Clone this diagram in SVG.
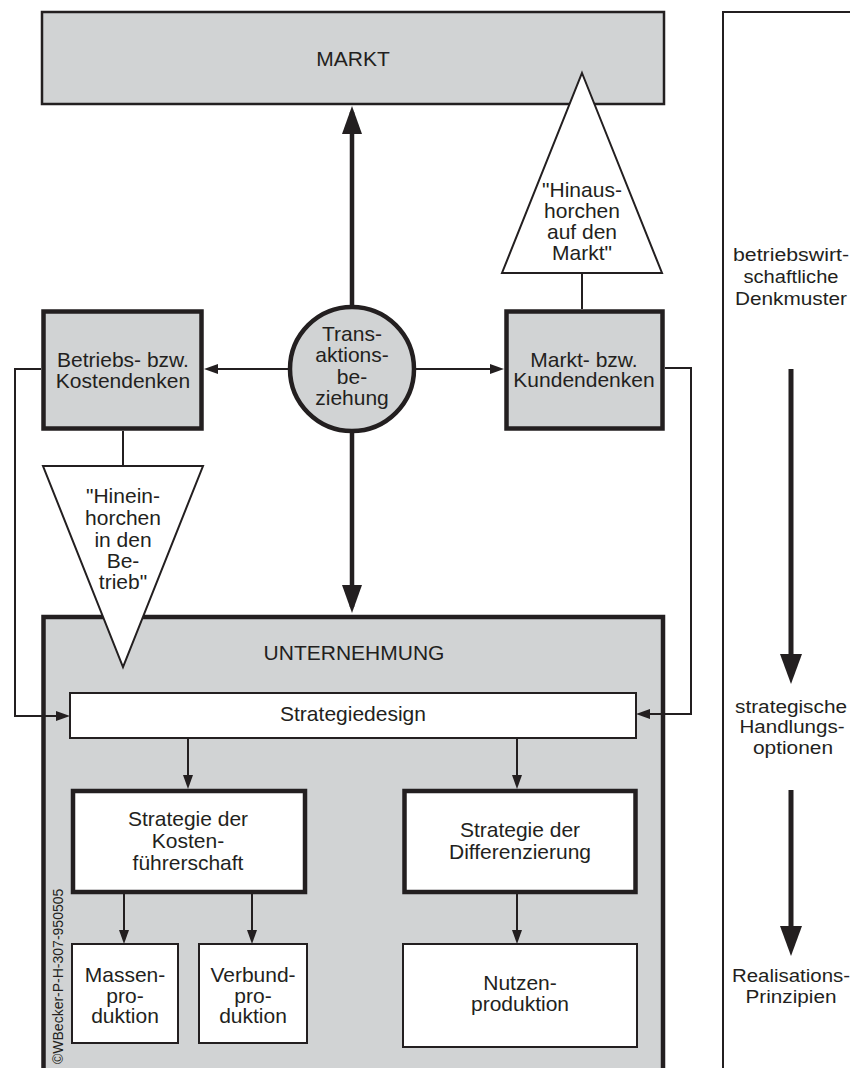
<svg xmlns="http://www.w3.org/2000/svg" width="850" height="1068" viewBox="0 0 850 1068">
  <style>
    .t { font-family: "Liberation Sans", Arial, sans-serif; font-size: 21px; fill: #231f20; text-anchor: middle; }
    .side { font-family: "Liberation Sans", Arial, sans-serif; font-size: 17.5px; fill: #231f20; text-anchor: middle; }
    .copy { font-family: "Liberation Sans", Arial, sans-serif; font-size: 14px; fill: #231f20; }
    .gray { fill: #d1d3d4; stroke: #231f20; }
    .white { fill: #ffffff; stroke: #231f20; }
    .thin { stroke-width: 2; }
    .mid { stroke-width: 2.5; }
    .bold { stroke-width: 4.5; }
    .link { fill: none; stroke: #231f20; stroke-width: 2; }
    .heavy { fill: none; stroke: #231f20; stroke-width: 4.5; }
    .flow { fill: none; stroke: #231f20; stroke-width: 5; }
  </style>
  <defs>
    <marker id="arrowThin" viewBox="0 0 14 10" refX="11" refY="5" markerWidth="14" markerHeight="10" markerUnits="userSpaceOnUse" orient="auto">
      <path d="M0,0 L14,5 L0,10 Z" fill="#231f20"/>
    </marker>
    <marker id="arrowThick" viewBox="0 0 28 20" refX="22" refY="10" markerWidth="28" markerHeight="20" markerUnits="userSpaceOnUse" orient="auto">
      <path d="M0,0 L28,10 L0,20 Z" fill="#231f20"/>
    </marker>
    <marker id="arrowFlow" viewBox="0 0 30 22" refX="22" refY="11" markerWidth="30" markerHeight="22" markerUnits="userSpaceOnUse" orient="auto">
      <path d="M0,0 L30,11 L0,22 Z" fill="#231f20"/>
    </marker>
  </defs>

  <!-- market -->
  <g id="markt">
    <rect class="gray mid" x="42" y="12" width="622" height="92"/>
    <text class="t" x="353" y="66">MARKT</text>
  </g>

  <!-- listening outwards to the market -->
  <g id="hinaushorchen">
    <polygon class="white thin" points="582,73 662,273 502,273"/>
    <text class="t" x="582" y="197">"Hinaus-</text>
    <text class="t" x="582" y="218">horchen</text>
    <text class="t" x="582" y="239">auf den</text>
    <text class="t" x="582" y="260">Markt"</text>
  </g>

  <!-- company -->
  <g id="unternehmung">
    <rect class="gray bold" x="43.5" y="617" width="619.5" height="470"/>
    <text class="t" x="354" y="660">UNTERNEHMUNG</text>
    <text class="copy" transform="translate(63,1064) rotate(-90)">©WBecker-P-H-307-950505</text>
  </g>

  <!-- listening inwards to the company -->
  <g id="hineinhorchen">
    <polygon class="white thin" points="43,466 203,466 123,667"/>
    <text class="t" x="123" y="503">"Hinein-</text>
    <text class="t" x="123" y="525">horchen</text>
    <text class="t" x="123" y="547">in den</text>
    <text class="t" x="123" y="568">Be-</text>
    <text class="t" x="123" y="589">trieb"</text>
  </g>

  <g id="betriebsdenken">
    <rect class="gray bold" x="43.5" y="311.5" width="158" height="117"/>
    <text class="t" x="123" y="367">Betriebs- bzw.</text>
    <text class="t" x="123" y="388">Kostendenken</text>
  </g>

  <g id="marktdenken">
    <rect class="gray bold" x="506.5" y="311.5" width="156" height="117"/>
    <text class="t" x="584" y="367">Markt- bzw.</text>
    <text class="t" x="584" y="387">Kundendenken</text>
  </g>

  <g id="transaktion">
    <circle class="gray bold" cx="352" cy="369" r="62"/>
    <text class="t" x="352" y="341">Trans-</text>
    <text class="t" x="352" y="362">aktions-</text>
    <text class="t" x="352" y="384">be-</text>
    <text class="t" x="352" y="405">ziehung</text>
  </g>

  <g id="strategiedesign">
    <rect class="white thin" x="70" y="693" width="566" height="45"/>
    <text class="t" x="353" y="721">Strategiedesign</text>
  </g>

  <g id="kostenfuehrerschaft">
    <rect class="white bold" x="73" y="791" width="232" height="101"/>
    <text class="t" x="188" y="826">Strategie der</text>
    <text class="t" x="188" y="848">Kosten-</text>
    <text class="t" x="188" y="870">führerschaft</text>
  </g>

  <g id="differenzierung">
    <rect class="white bold" x="404.5" y="791" width="231" height="101"/>
    <text class="t" x="520" y="837">Strategie der</text>
    <text class="t" x="520" y="859">Differenzierung</text>
  </g>

  <g id="massenproduktion">
    <rect class="white thin" x="72" y="944" width="106" height="99"/>
    <text class="t" x="125" y="982">Massen-</text>
    <text class="t" x="125" y="1003">pro-</text>
    <text class="t" x="125" y="1023">duktion</text>
  </g>

  <g id="verbundproduktion">
    <rect class="white thin" x="199" y="944" width="108" height="99"/>
    <text class="t" x="253" y="982">Verbund-</text>
    <text class="t" x="253" y="1003">pro-</text>
    <text class="t" x="253" y="1023">duktion</text>
  </g>

  <g id="nutzenproduktion">
    <rect class="white thin" x="403" y="944" width="234" height="103"/>
    <text class="t" x="520" y="990">Nutzen-</text>
    <text class="t" x="520" y="1011">produktion</text>
  </g>

  <!-- side column: levels of thinking -->
  <g id="ebenen">
    <path class="link" d="M723,1068 V12 H850"/>
    <text class="side" x="791" y="261" textLength="116" lengthAdjust="spacingAndGlyphs">betriebswirt-</text>
    <text class="side" x="791" y="283" textLength="95" lengthAdjust="spacingAndGlyphs">schaftliche</text>
    <text class="side" x="791" y="305" textLength="112" lengthAdjust="spacingAndGlyphs">Denkmuster</text>
    <text class="side" x="791" y="713" textLength="112" lengthAdjust="spacingAndGlyphs">strategische</text>
    <text class="side" x="792" y="733" textLength="105" lengthAdjust="spacingAndGlyphs">Handlungs-</text>
    <text class="side" x="793" y="754" textLength="80" lengthAdjust="spacingAndGlyphs">optionen</text>
    <text class="side" x="791" y="982" textLength="118" lengthAdjust="spacingAndGlyphs">Realisations-</text>
    <text class="side" x="791" y="1003" textLength="91" lengthAdjust="spacingAndGlyphs">Prinzipien</text>
  </g>

  <!-- connectors -->
  <g id="connectors">
    <line class="heavy" x1="352" y1="307" x2="352" y2="112" marker-end="url(#arrowThick)"/>
    <line class="heavy" x1="352" y1="431" x2="352" y2="607" marker-end="url(#arrowThick)"/>
    <line class="link" x1="290" y1="369" x2="207" y2="369" marker-end="url(#arrowThin)"/>
    <line class="link" x1="414" y1="369" x2="501" y2="369" marker-end="url(#arrowThin)"/>
    <line class="link" x1="582" y1="273" x2="582" y2="309"/>
    <line class="link" x1="123" y1="431" x2="123" y2="466"/>
    <polyline class="link" points="41,369 15,369 15,716 67,716" marker-end="url(#arrowThin)"/>
    <polyline class="link" points="665,368 691,368 691,714 639,714" marker-end="url(#arrowThin)"/>
    <line class="link" x1="188" y1="739" x2="188" y2="786" marker-end="url(#arrowThin)"/>
    <line class="link" x1="517" y1="739" x2="517" y2="786" marker-end="url(#arrowThin)"/>
    <line class="link" x1="124" y1="894" x2="124" y2="941" marker-end="url(#arrowThin)"/>
    <line class="link" x1="252" y1="894" x2="252" y2="941" marker-end="url(#arrowThin)"/>
    <line class="link" x1="517" y1="894" x2="517" y2="941" marker-end="url(#arrowThin)"/>
    <line class="flow" x1="791" y1="369" x2="791" y2="676" marker-end="url(#arrowFlow)"/>
    <line class="flow" x1="791" y1="790" x2="791" y2="948" marker-end="url(#arrowFlow)"/>
  </g>
</svg>
